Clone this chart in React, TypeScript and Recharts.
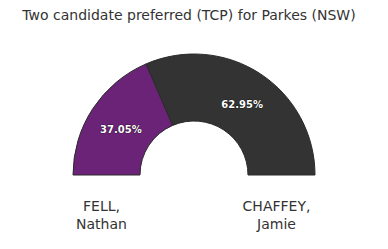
import React from 'react';
import { PieChart, Pie, Cell } from 'recharts';

const candidates = ['FELL, Nathan', 'CHAFFEY, Jamie'];
const shares = [37.05, 62.95];
const colours = ['#6b2377', '#333333'];

const data = candidates.map((name, i) => ({ name, value: shares[i] }));

const CX = 189;
const CY = 170;
const INNER = 54;
const OUTER = 121;
const RAD = Math.PI / 180;

const renderLabel = (props: any) => {
  const { cx, cy, midAngle, innerRadius, outerRadius, value } = props;
  const r = (innerRadius + outerRadius) / 2;
  const x = cx + r * Math.cos(-midAngle * RAD);
  const y = cy + r * Math.sin(-midAngle * RAD) + 3;
  return (
    <text
      x={x}
      y={y}
      fill="#ffffff"
      stroke="#000000"
      strokeWidth={0.6}
      paintOrder="stroke"
      textAnchor="middle"
      dominantBaseline="central"
      fontFamily="DejaVu Sans"
      fontSize={10}
      fontWeight="bold"
    >
      {value.toFixed(2)}%
    </text>
  );
};

const App = () => {
  return (
    <div
      style={{
        position: 'absolute',
        left: 0,
        top: 0,
        width: 388,
        height: 249,
        background: '#fff',
        fontFamily: 'DejaVu Sans',
        color: '#333333',
      }}
    >
      <div
        style={{
          position: 'absolute',
          top: 6,
          left: CX - 194,
          width: 388,
          textAlign: 'center',
          fontSize: 14,
          lineHeight: '18px',
        }}
      >
        Two candidate preferred (TCP) for Parkes (NSW)
      </div>
      <PieChart width={388} height={249} style={{ position: 'absolute', left: 0, top: 0 }}>
        <Pie
          data={data}
          dataKey="value"
          nameKey="name"
          cx={CX}
          cy={CY}
          startAngle={180}
          endAngle={0}
          innerRadius={INNER}
          outerRadius={OUTER}
          stroke="#2a2a2a"
          strokeWidth={1}
          label={renderLabel}
          labelLine={false}
          isAnimationActive={false}
        >
          {data.map((d, i) => (
            <Cell key={d.name} fill={colours[i]} />
          ))}
        </Pie>
      </PieChart>
      {candidates.map((name, i) => {
        const [last, first] = name.split(', ');
        const centre = i === 0 ? CX - (INNER + OUTER) / 2 : CX + (INNER + OUTER) / 2;
        return (
          <div
            key={name}
            style={{
              position: 'absolute',
              top: 197,
              left: centre - 60,
              width: 120,
              textAlign: 'center',
              fontSize: 14,
              lineHeight: '18px',
            }}
          >
            {last},
            <br />
            {first}
          </div>
        );
      })}
    </div>
  );
};

export default App;
